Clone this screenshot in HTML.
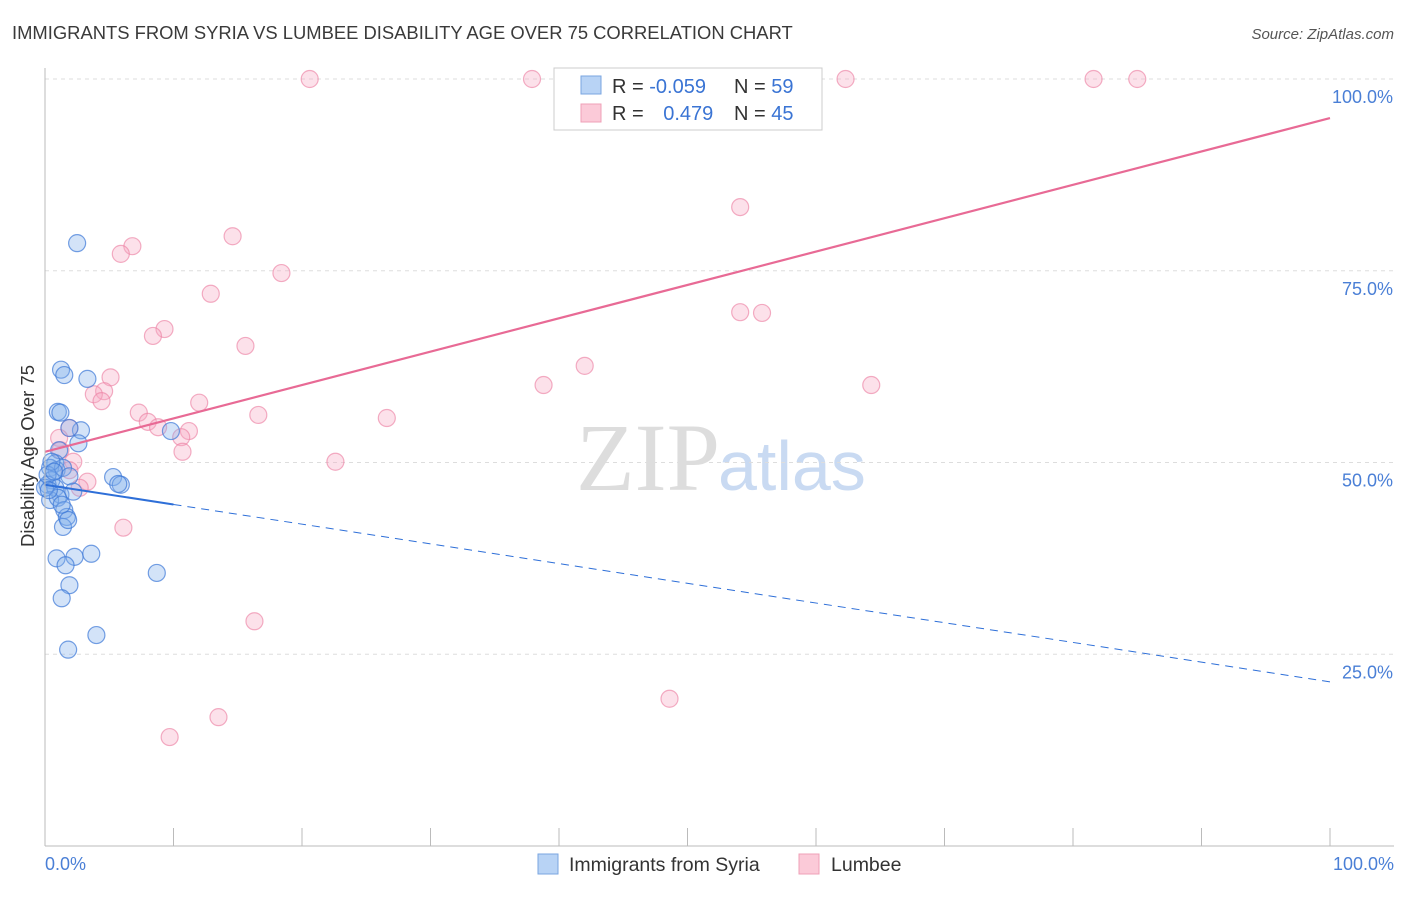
<!DOCTYPE html>
<html><head><meta charset="utf-8"><style>
body{margin:0;background:#fff;font-family:"Liberation Sans",sans-serif}
svg text{font-family:"Liberation Sans",sans-serif}
</style></head><body>
<svg id="c" width="1406" height="892">
<text x="12" y="39" font-size="18.4" fill="#3a3a3a">IMMIGRANTS FROM SYRIA VS LUMBEE DISABILITY AGE OVER 75 CORRELATION CHART</text>
<text x="1394" y="39" font-size="15" fill="#555" font-style="italic" text-anchor="end">Source: ZipAtlas.com</text>
<text x="720" y="490" font-size="96" fill="#ddd" text-anchor="end" font-family="Liberation Serif" style="font-family:'Liberation Serif',serif">ZIP</text>
<text x="718" y="490" font-size="70" fill="#c9daf2">atlas</text>
<g id="grid"></g><g id="pts"></g><g id="lines"></g>
<line x1="45" y1="68" x2="45" y2="846" stroke="#bbb"/>
<line x1="45" y1="846" x2="1394" y2="846" stroke="#bbb"/>
<text x="34" y="456" font-size="18.5" fill="#333" text-anchor="middle" transform="rotate(-90 34 456)">Disability Age Over 75</text>
<text x="45" y="870" font-size="18" fill="#4a7fd6">0.0%</text>
<text x="1394" y="870" font-size="18" fill="#4a7fd6" text-anchor="end">100.0%</text>
<g>
<rect x="554" y="68" width="268" height="62" fill="#fff" stroke="#ccc"/>
<rect x="581" y="76" width="20" height="18" fill="#b8d3f5" stroke="#7aa6e0"/>
<rect x="581" y="104" width="20" height="18" fill="#fbcad8" stroke="#efa0b7"/>
<text x="612" y="93" font-size="20" fill="#333">R = <tspan fill="#3a74d4">-0.059</tspan></text>
<text x="734" y="93" font-size="20" fill="#333">N = <tspan fill="#3a74d4">59</tspan></text>
<text x="612" y="120" font-size="20" fill="#333">R = <tspan fill="#3a74d4" dx="14">0.479</tspan></text>
<text x="734" y="120" font-size="20" fill="#333">N = <tspan fill="#3a74d4">45</tspan></text>
</g>
<g>
<rect x="538" y="854" width="20" height="20" fill="#b8d3f5" stroke="#7aa6e0"/>
<text x="569" y="871" font-size="19.5" fill="#333">Immigrants from Syria</text>
<rect x="799" y="854" width="20" height="20" fill="#fbcad8" stroke="#efa0b7"/>
<text x="831" y="871" font-size="19.5" fill="#333">Lumbee</text>
</g>
</svg>
<script>
const blueX=[2.5,1.25,1.5,3.3,1.0,1.2,2.8,1.9,1.1,2.6,0.8,0.4,0.9,1.4,1.9,0.5,0.2,0.8,1.2,2.2,0.4,1.0,1.5,1.7,1.4,1.8,5.3,5.9,5.7,9.8,3.6,0.9,2.3,1.6,1.9,1.3,4.0,1.8,8.7,0,0.2,0.5,0.7,0.3,1.3];
const blueY=[78.6,62.1,61.4,60.9,56.6,56.5,54.2,54.5,51.6,52.5,49.9,49.3,49.0,49.3,48.2,47.7,47.1,46.7,45.8,46.2,45.1,45.4,43.8,42.9,41.6,42.5,48.1,47.1,47.2,54.1,38.1,37.5,37.7,36.6,34.0,32.3,27.5,25.6,35.6,46.7,48.4,50.1,48.8,46.4,44.5];
const pinkX=[20.6,37.9,62.3,81.6,85,54.1,14.6,6.8,5.9,18.4,12.9,9.3,8.4,15.6,54.1,55.8,42.0,38.8,64.3,5.1,4.6,3.8,4.4,12.0,7.3,16.6,26.6,8.0,8.8,11.2,10.6,1.9,1.1,1.2,10.7,22.6,2.2,1.9,3.3,2.7,6.1,16.3,48.6,13.5,9.7];
const pinkY=[100,100,100,100,100,83.3,79.5,78.2,77.2,74.7,72.0,67.4,66.5,65.2,69.6,69.5,62.6,60.1,60.1,61.1,59.3,58.9,58.0,57.8,56.5,56.2,55.8,55.3,54.6,54.1,53.3,54.5,53.2,51.6,51.4,50.1,50.1,49.0,47.5,46.7,41.5,29.3,19.2,16.8,14.2];
const yTicks=[25,50,75,100];
const xTicks=[10,20,30,40,50,60,70,80,90,100];
const blueTrend=[47.1,21.4];
const pinkTrend=[51.4,94.9];
const NS="http://www.w3.org/2000/svg";
const sx=v=>45+v*12.85, sy=v=>846-v*7.67;
function mk(t,a,p){const e=document.createElementNS(NS,t);for(const k in a)e.setAttribute(k,a[k]);p.appendChild(e);return e;}
const grid=document.getElementById('grid'),pts=document.getElementById('pts'),lines=document.getElementById('lines');
yTicks.forEach(t=>{
const l=mk('line',{x1:45,x2:1394,y1:sy(t),y2:sy(t),stroke:'#ddd','stroke-dasharray':'4 4'},grid);


const tx=mk('text',{x:1393,y:sy(t)+24,'font-size':18,fill:'#4a7fd6','text-anchor':'end'},grid);
tx.textContent=t.toFixed(1)+'%';


});
xTicks.forEach(t=>{
const l=mk('line',{x1:sx(t),x2:sx(t),y1:828,y2:846,stroke:'#bbb'},grid);


});
pinkX.forEach((x,i)=>{
const c=mk('circle',{cx:sx(x),cy:sy(pinkY[i]),r:8.5,fill:'rgba(246,170,195,0.35)',stroke:'rgba(236,130,165,0.65)','stroke-width':1.2},pts);


});
blueX.forEach((x,i)=>{
const c=mk('circle',{cx:sx(x),cy:sy(blueY[i]),r:8.5,fill:'rgba(130,175,235,0.35)',stroke:'rgba(60,120,215,0.7)','stroke-width':1.2},pts);


});
const bAt=x=>blueTrend[0]+(blueTrend[1]-blueTrend[0])*x/100;
let l1=mk('line',{x1:sx(0),y1:sy(bAt(0)),x2:sx(10),y2:sy(bAt(10)),stroke:'#2e6fd8','stroke-width':2},lines);


let l2=mk('line',{x1:sx(10),y1:sy(bAt(10)),x2:sx(100),y2:sy(bAt(100)),stroke:'#2e6fd8','stroke-width':1,'stroke-dasharray':'8 6'},lines);


let l3=mk('line',{x1:sx(0),y1:sy(pinkTrend[0]),x2:sx(100),y2:sy(pinkTrend[1]),stroke:'#e86a95','stroke-width':2.2},lines);


</script>
</body></html>
